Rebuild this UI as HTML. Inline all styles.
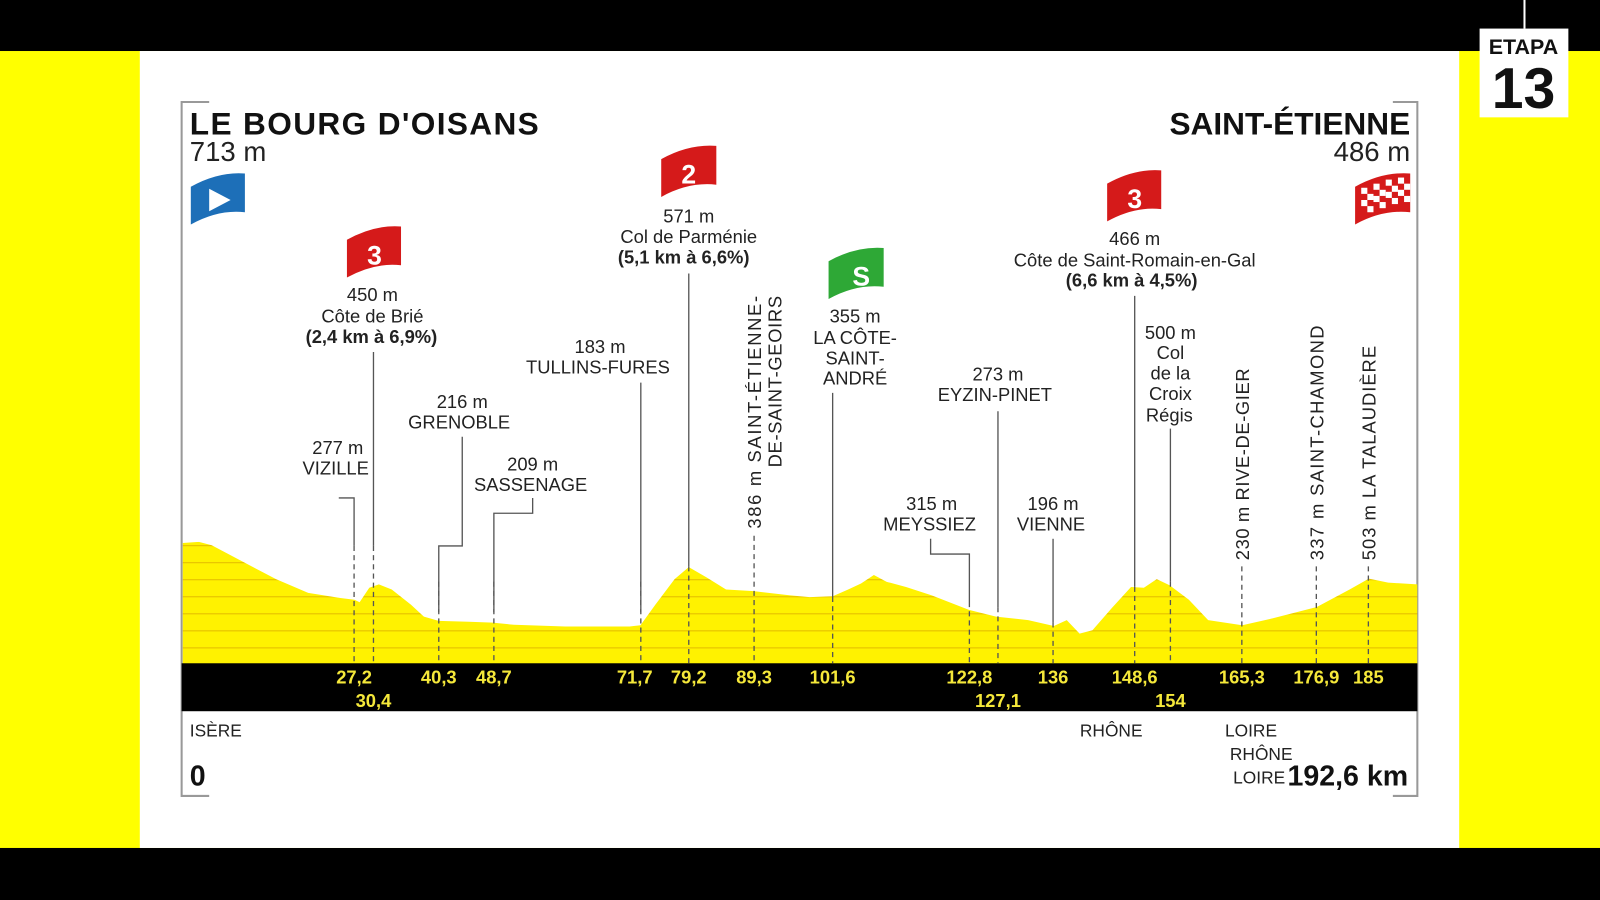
<!DOCTYPE html>
<html><head><meta charset="utf-8"><style>
html,body{margin:0;padding:0;width:1600px;height:900px;overflow:hidden;background:#000}
svg{display:block}
text{font-family:"Liberation Sans",sans-serif;fill:#222}
.l{font-size:18px;text-anchor:middle}
.b{font-weight:bold}
.k{font-size:18px;font-weight:bold;fill:#f5e83a;text-anchor:middle}
</style></head><body>
<svg width="1600" height="900" viewBox="0 0 1568 882" preserveAspectRatio="none">
<defs>
<pattern id="st" width="10" height="16.7" patternUnits="userSpaceOnUse" y="651">
<rect width="10" height="16.7" fill="#fff200"/><rect y="0" width="10" height="1.2" fill="#e8c400"/>
</pattern>
<clipPath id="cp"><path id="cpp" d=""/></clipPath>
</defs>
<rect x="0" y="0" width="1568" height="882" fill="#000"/>
<rect x="0" y="50" width="1568" height="781" fill="#ffff00"/>
<rect x="137" y="50" width="1293" height="781" fill="#fff"/>
<line x1="1494" y1="0" x2="1494" y2="28" stroke="#fff" stroke-width="2"/>
<rect x="1450" y="28" width="87" height="87" fill="#fff"/>
<text x="1493" y="53" style="font-size:21px;font-weight:bold;text-anchor:middle;fill:#111">ETAPA</text>
<text x="1493" y="106" style="font-size:56px;font-weight:bold;text-anchor:middle;fill:#111">13</text>

<g stroke="#999" stroke-width="2" fill="none">
<polyline points="205,100 178,100 178,780 205,780"/>
<polyline points="1365,100 1389,100 1389,780 1365,780"/>
</g>
<text x="186" y="132" textLength="342" style="font-size:31px;font-weight:bold;fill:#111">LE BOURG D'OISANS</text>
<text x="186" y="158" style="font-size:27px;fill:#222">713 m</text>
<text x="1382" y="132" style="font-size:31px;font-weight:bold;fill:#111;text-anchor:end">SAINT-ÉTIENNE</text>
<text x="1382" y="158" style="font-size:27px;fill:#222;text-anchor:end">486 m</text>

<path d="M187,183 Q214,168 240,170 L240,208 Q214,205 187,220Z" fill="#1d6fb8"/>
<path d="M205,185 L226,196 L205,207Z" fill="#fff"/>
<g>
<path d="M1328,183 Q1355,168 1382,170 L1382,208 Q1355,205 1328,220Z" fill="#d51a1a"/>
<g fill="#fff">
<rect x="1334" y="184" width="6" height="6"/><rect x="1346" y="180" width="6" height="6"/><rect x="1358" y="176" width="6" height="6"/><rect x="1370" y="174" width="6" height="6"/>
<rect x="1340" y="190" width="6" height="6"/><rect x="1352" y="186" width="6" height="6"/><rect x="1364" y="182" width="6" height="6"/><rect x="1376" y="180" width="6" height="6"/>
<rect x="1334" y="196" width="6" height="6"/><rect x="1346" y="192" width="6" height="6"/><rect x="1358" y="188" width="6" height="6"/><rect x="1370" y="186" width="6" height="6"/>
<rect x="1340" y="202" width="6" height="6"/><rect x="1352" y="198" width="6" height="6"/><rect x="1364" y="194" width="6" height="6"/><rect x="1376" y="192" width="6" height="6"/>
</g></g>
<g>
<path d="M340,235 Q367,220 393,222 L393,260 Q367,257 340,272Z" fill="#d51a1a"/>
<text x="367" y="259" style="font-size:26px;font-weight:bold;fill:#fff;text-anchor:middle">3</text>
<path d="M648,156 Q675,141 702,143 L702,181 Q675,178 648,193Z" fill="#d51a1a"/>
<text x="675" y="180" style="font-size:26px;font-weight:bold;fill:#fff;text-anchor:middle">2</text>
<path d="M1085,180 Q1112,165 1138,167 L1138,205 Q1112,202 1085,217Z" fill="#d51a1a"/>
<text x="1112" y="204" style="font-size:26px;font-weight:bold;fill:#fff;text-anchor:middle">3</text>
<path d="M812,256 Q839,241 866,243 L866,281 Q839,278 812,293Z" fill="#2ea836"/>
<text x="844" y="280" style="font-size:26px;font-weight:bold;fill:#fff;text-anchor:middle">S</text>
</g>

<rect x="178" y="440" width="1212" height="212" fill="url(#st)" clip-path="url(#cp)"/>
<rect x="178" y="650" width="1211" height="47" fill="#000"/>

<g stroke="#555" stroke-width="1.3" fill="none">
<polyline points="332,488 347,488 347,535"/>
<polyline points="366,345 366,535"/>
<polyline points="453,428 453,535 430,535 430,600"/>
<polyline points="522,488 522,503 484,503 484,600"/>
<polyline points="628,375 628,600"/>
<polyline points="675,268 675,555"/>
<polyline points="816,385 816,585"/>
<polyline points="912,528 912,543 950,543 950,590"/>
<polyline points="978,403 978,595"/>
<polyline points="1032,528 1032,610"/>
<polyline points="1112,290 1112,575"/>
<polyline points="1147,420 1147,570"/>
</g>
<g stroke="#555" stroke-width="1.3" stroke-dasharray="5,4">
<line x1="347" y1="535" x2="347" y2="650"/><line x1="366" y1="535" x2="366" y2="650"/>
<line x1="430" y1="570" x2="430" y2="650"/><line x1="484" y1="570" x2="484" y2="650"/>
<line x1="628" y1="570" x2="628" y2="650"/><line x1="675" y1="555" x2="675" y2="650"/>
<line x1="739" y1="525" x2="739" y2="650"/><line x1="816" y1="585" x2="816" y2="650"/>
<line x1="950" y1="590" x2="950" y2="650"/><line x1="978" y1="595" x2="978" y2="650"/>
<line x1="1032" y1="610" x2="1032" y2="650"/><line x1="1112" y1="575" x2="1112" y2="650"/>
<line x1="1147" y1="570" x2="1147" y2="650"/><line x1="1217" y1="555" x2="1217" y2="650"/>
<line x1="1290" y1="555" x2="1290" y2="650"/><line x1="1341" y1="555" x2="1341" y2="650"/>
</g>

<text class="k" x="347" y="670">27,2</text><text class="k" x="366" y="693">30,4</text>
<text class="k" x="430" y="670">40,3</text><text class="k" x="484" y="670">48,7</text>
<text class="k" x="622" y="670">71,7</text><text class="k" x="675" y="670">79,2</text>
<text class="k" x="739" y="670">89,3</text><text class="k" x="816" y="670">101,6</text>
<text class="k" x="950" y="670">122,8</text><text class="k" x="978" y="693">127,1</text>
<text class="k" x="1032" y="670">136</text><text class="k" x="1112" y="670">148,6</text>
<text class="k" x="1147" y="693">154</text><text class="k" x="1217" y="670">165,3</text>
<text class="k" x="1290" y="670">176,9</text><text class="k" x="1341" y="670">185</text>

<text class="l" x="331" y="445">277 m</text><text class="l" x="329" y="465">VIZILLE</text>
<text class="l" x="365" y="295">450 m</text><text class="l" x="365" y="316">Côte de Brié</text><text class="l b" x="364" y="336">(2,4 km à 6,9%)</text>
<text class="l" x="453" y="400">216 m</text><text class="l" x="450" y="420">GRENOBLE</text>
<text class="l" x="522" y="461">209 m</text><text class="l" x="520" y="481">SASSENAGE</text>
<text class="l" x="588" y="346">183 m</text><text class="l" x="586" y="366">TULLINS-FURES</text>
<text class="l" x="675" y="218">571 m</text><text class="l" x="675" y="238">Col de Parménie</text><text class="l b" x="670" y="258">(5,1 km à 6,6%)</text>
<text class="l" style="text-anchor:start" textLength="228" transform="translate(746,518) rotate(-90)">386 m SAINT-ÉTIENNE-</text>
<text class="l" style="text-anchor:start" textLength="168" transform="translate(766,458) rotate(-90)">DE-SAINT-GEOIRS</text>
<text class="l" x="838" y="316">355 m</text><text class="l" x="838" y="337">LA CÔTE-</text><text class="l" x="838" y="357">SAINT-</text><text class="l" x="838" y="377">ANDRÉ</text>
<text class="l" x="913" y="500">315 m</text><text class="l" x="911" y="520">MEYSSIEZ</text>
<text class="l" x="978" y="373">273 m</text><text class="l" x="975" y="393">EYZIN-PINET</text>
<text class="l" x="1032" y="500">196 m</text><text class="l" x="1030" y="520">VIENNE</text>
<text class="l" x="1112" y="240">466 m</text><text class="l" x="1112" y="261">Côte de Saint-Romain-en-Gal</text><text class="l b" x="1109" y="281">(6,6 km à 4,5%)</text>
<text class="l" x="1147" y="332">500 m</text><text class="l" x="1147" y="352">Col</text><text class="l" x="1147" y="372">de la</text><text class="l" x="1147" y="392">Croix</text><text class="l" x="1146" y="413">Régis</text>
<text class="l" style="text-anchor:start" textLength="188" transform="translate(1224,549) rotate(-90)">230 m RIVE-DE-GIER</text>
<text class="l" style="text-anchor:start" textLength="230" transform="translate(1297,549) rotate(-90)">337 m SAINT-CHAMOND</text>
<text class="l" style="text-anchor:start" textLength="210" transform="translate(1348,549) rotate(-90)">503 m LA TALAUDIÈRE</text>

<text x="186" y="722" style="font-size:17px">ISÈRE</text>
<text x="1089" y="722" style="font-size:17px;text-anchor:middle">RHÔNE</text>
<text x="1226" y="722" style="font-size:17px;text-anchor:middle">LOIRE</text>
<text x="1236" y="745" style="font-size:17px;text-anchor:middle">RHÔNE</text>
<text x="1234" y="768" style="font-size:17px;text-anchor:middle">LOIRE</text>
<text x="186" y="770" style="font-size:28px;font-weight:bold;fill:#111">0</text>
<text x="1380" y="770" style="font-size:28px;font-weight:bold;fill:#111;text-anchor:end">192,6 km</text>
</svg>
<script>
var p=[[0,713],[3,720],[5,700],[10,600],[15,500],[20,420],[25,390],[27.2,380],[28,365],[29.5,450],[31,470],[33,440],[36,350],[38,280],[40.3,255],[45,250],[48.7,245],[52,232],[60,222],[70,222],[71.7,230],[74,350],[77,500],[79.2,571],[82,510],[85,440],[89.3,430],[95,405],[98,395],[101.6,400],[104,440],[106,475],[108,525],[110,485],[113,455],[117,405],[122.8,320],[127,280],[132,260],[136,225],[138,260],[140,180],[142,200],[145,330],[148,455],[150,450],[152,500],[154,465],[157,380],[160,260],[165.3,230],[170,270],[176.9,337],[182,440],[185,503],[188,480],[192.6,470]];
var d="M179,651";p.forEach(function(q){var x=Math.max(179,176+6.3*q[0]);x=Math.min(x,1389);d+=" L"+x.toFixed(1)+","+(651-0.1667*q[1]).toFixed(1);});d+=" L1389,651 Z";
document.getElementById("cpp").setAttribute("d",d);
</script>
</body></html>
